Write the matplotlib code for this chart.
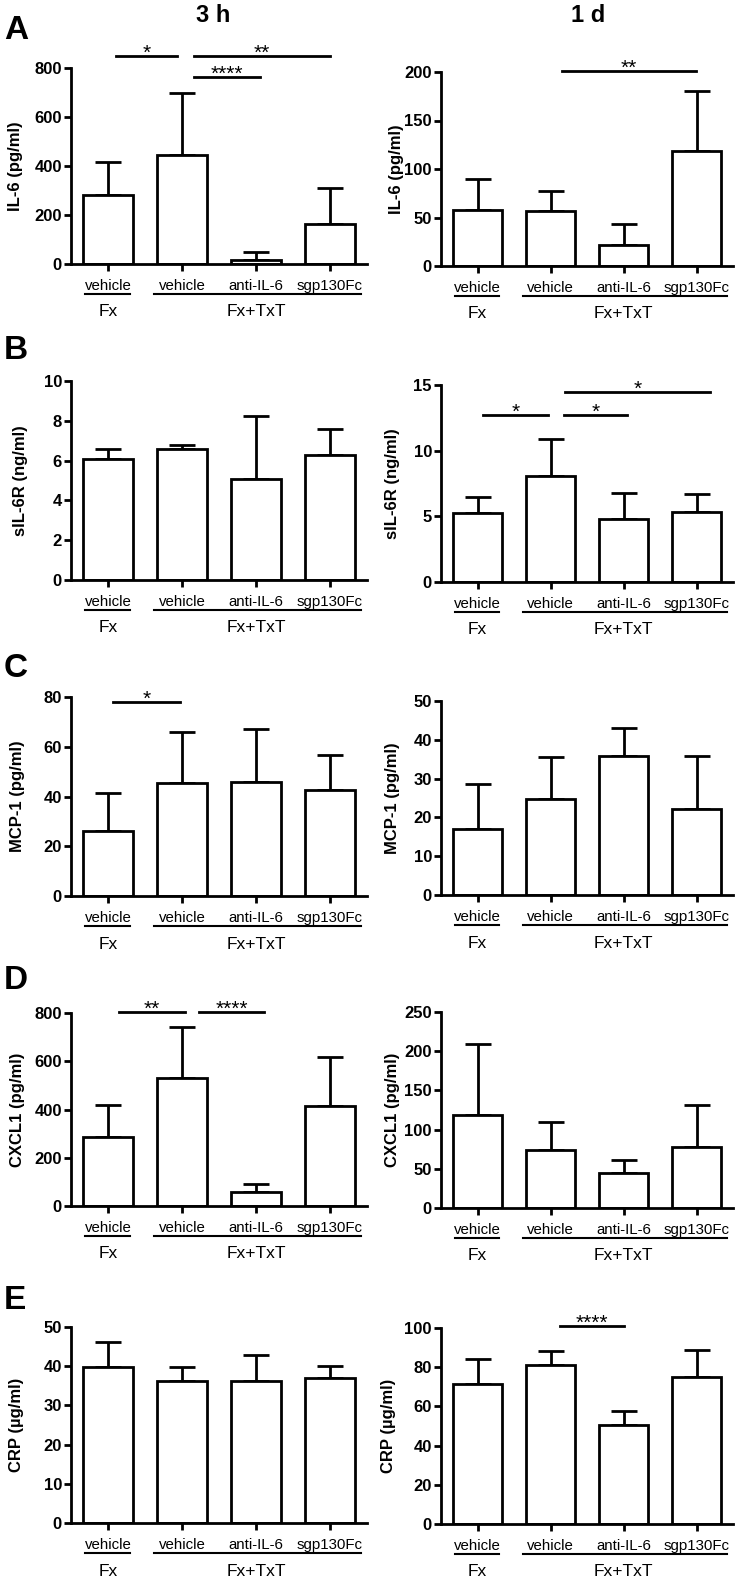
import matplotlib
matplotlib.use("Agg")
import matplotlib.pyplot as plt
from matplotlib.transforms import blended_transform_factory, ScaledTranslation

plt.rcParams['font.family'] = ['Liberation Sans', 'DejaVu Sans']

categories = ['vehicle', 'vehicle', 'anti-IL-6', 'sgp130Fc']
group_names = ['Fx', 'Fx+TxT']
times = ['3 h', '1 d']
panel_letters = ['A', 'B', 'C', 'D', 'E']
ylabels = ['IL-6 (pg/ml)', 'sIL-6R (ng/ml)', 'MCP-1 (pg/ml)', 'CXCL1 (pg/ml)', 'CRP (µg/ml)']

il6_3h = [282, 445, 16, 163]
il6_3h_err = [134, 253, 33, 147]
il6_1d = [57.7, 57, 21.6, 119]
il6_1d_err = [32, 20, 21.4, 61]
sil6r_3h = [6.08, 6.6, 5.08, 6.28]
sil6r_3h_err = [0.5, 0.2, 3.17, 1.3]
sil6r_1d = [5.26, 8.07, 4.8, 5.33]
sil6r_1d_err = [1.24, 2.83, 1.98, 1.37]
mcp1_3h = [26.1, 45.4, 45.8, 42.6]
mcp1_3h_err = [15.3, 20.5, 21.3, 14.0]
mcp1_1d = [17.0, 24.7, 35.8, 22.1]
mcp1_1d_err = [11.6, 10.9, 7.2, 13.7]
cxcl1_3h = [286, 531, 58, 415]
cxcl1_3h_err = [133, 211, 33, 203]
cxcl1_1d = [118.6, 74, 44.6, 78]
cxcl1_1d_err = [90.4, 36, 16.4, 53]
crp_3h = [39.8, 36.2, 36.2, 37]
crp_3h_err = [6.4, 3.6, 6.6, 3]
crp_1d = [71.4, 81, 50.5, 75]
crp_1d_err = [12.8, 7.3, 7.2, 13.8]

ymax = [[800, 200], [10, 15], [80, 50], [800, 250], [50, 100]]
ystep = [[200, 50], [2, 5], [20, 10], [200, 50], [10, 20]]

# significance bars: (from, to, height, stars)
sig_a_3h = [(0.11, 0.93, 849, '*'), (1.16, 3.0, 849, '**'), (1.16, 2.05, 763, '****')]
sig_a_1d = [(1.16, 2.99, 201, '**')]
sig_b_1d = [(0.08, 0.96, 12.7, '*'), (1.19, 2.05, 12.7, '*'), (1.2, 3.19, 14.5, '*')]
sig_c_3h = [(0.07, 0.97, 77.9, '*')]
sig_d_3h = [(0.15, 1.04, 806, '**'), (1.23, 2.11, 806, '****')]
sig_e_1d = [(1.13, 2.0, 101, '****')]

means = [[il6_3h, il6_1d], [sil6r_3h, sil6r_1d], [mcp1_3h, mcp1_1d],
         [cxcl1_3h, cxcl1_1d], [crp_3h, crp_1d]]
errs = [[il6_3h_err, il6_1d_err], [sil6r_3h_err, sil6r_1d_err], [mcp1_3h_err, mcp1_1d_err],
        [cxcl1_3h_err, cxcl1_1d_err], [crp_3h_err, crp_1d_err]]
sigs = [[sig_a_3h, sig_a_1d], [[], sig_b_1d], [sig_c_3h, []], [sig_d_3h, []], [[], sig_e_1d]]

W, H = 740, 1579
fig = plt.figure(figsize=(W / 100, H / 100), dpi=100)

# layout in pixels
col_x = [(71, 367), (441, 733)]
row_y = [[(68, 264), (72, 266)], [(381, 580), (385, 582)], [(697, 896), (701, 895)],
         [(1013, 1206), (1012, 1208)], [(1327, 1523), (1328, 1524)]]
ylab_x = [[16, 397], [21, 393], [18, 392], [18, 392], [17, 388]]
letter_y = [15, 335, 653, 965, 1285]

LW = 2.0
x = list(range(len(categories)))

for r in range(5):
    for c in range(2):
        x0, x1 = col_x[c]
        top, bot = row_y[r][c]
        ax = fig.add_axes([x0 / W, 1 - bot / H, (x1 - x0) / W, (bot - top) / H])
        ax.bar(x, means[r][c], width=0.68, color='white', edgecolor='black', linewidth=LW, zorder=2)
        ax.errorbar(x, means[r][c], yerr=[[0] * 4, errs[r][c]], fmt='none', ecolor='black',
                    elinewidth=LW, capsize=9.5, capthick=LW, zorder=1)
        ax.set_xlim(-0.5, 3.5)
        ax.set_ylim(0, ymax[r][c])
        ax.set_yticks(range(0, ymax[r][c] + 1, ystep[r][c]))
        for s in ['top', 'right']:
            ax.spines[s].set_visible(False)
        for s in ['left', 'bottom']:
            ax.spines[s].set_linewidth(LW)
        ax.tick_params(axis='both', width=LW, length=5, direction='out')
        ax.tick_params(axis='y', pad=1.5)
        for lab in ax.get_yticklabels():
            lab.set_fontweight('bold')
            lab.set_fontsize(12)
        ax.set_xticks(x)
        ax.set_xticklabels(categories, fontsize=10.8)
        ax.tick_params(axis='x', pad=5.5)
        ax.set_ylabel(ylabels[r], fontsize=12, fontweight='bold')
        ax.yaxis.label.set_va('center')
        ax.yaxis.set_label_coords((ylab_x[r][c] - x0) / (x1 - x0), 0.5)

        # group underlines and labels
        trans = blended_transform_factory(ax.transData, ax.transAxes)
        off_line = trans + ScaledTranslation(0, -0.30, fig.dpi_scale_trans)
        off_text = trans + ScaledTranslation(0, -0.48, fig.dpi_scale_trans)
        ax.plot([-0.31, 0.30], [0, 0], color='black', lw=1.5, transform=off_line, clip_on=False)
        ax.plot([0.62, 3.42], [0, 0], color='black', lw=1.5, transform=off_line, clip_on=False)
        ax.text(0, 0, group_names[0], transform=off_text, ha='center', va='center', fontsize=12.5)
        ax.text(2.0, 0, group_names[1], transform=off_text, ha='center', va='center', fontsize=12.5)

        star_off = ax.transData + ScaledTranslation(0, -0.03, fig.dpi_scale_trans)
        for a, b, yv, stars in sigs[r][c]:
            ax.plot([a, b], [yv, yv], color='black', lw=LW, clip_on=False)
            ax.text((a + b) / 2, yv, stars, ha='center', va='baseline', fontsize=15,
                    transform=star_off, clip_on=False)

for r in range(5):
    fig.text(4 / W, 1 - letter_y[r] / H, panel_letters[r], fontsize=24, fontweight='bold',
             ha='left', va='top')

fig.text(213 / W, 1 - 16 / H, times[0], fontsize=17, fontweight='bold', ha='center', va='center')
fig.text(588 / W, 1 - 16 / H, times[1], fontsize=17, fontweight='bold', ha='center', va='center')

fig.savefig('out.png', dpi=100)
